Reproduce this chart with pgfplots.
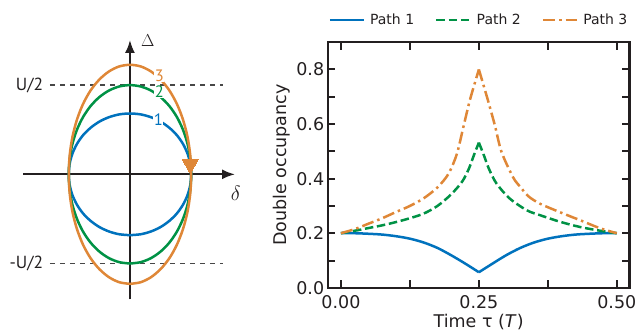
\documentclass[border=0pt]{standalone}
\usepackage{fontspec}
\setmainfont{DejaVu Sans}
\newfontfamily\ptsans{PT Sans}
\usepackage{pgfplots}
\usepackage{pgfplotstable}
\pgfplotsset{compat=1.18}
\usetikzlibrary{arrows.meta}
\definecolor{cblue}{RGB}{0,114,189}
\definecolor{cgreen}{RGB}{0,146,69}
\definecolor{corange}{RGB}{223,135,55}
\definecolor{axcol}{RGB}{35,31,32}

\pgfplotstableread{
x b g o
0.000 -0.682 -1.000 -1.228
0.174 -0.672 -0.985 -1.210
0.342 -0.641 -0.940 -1.154
0.500 -0.591 -0.866 -1.063
0.643 -0.522 -0.766 -0.941
0.766 -0.439 -0.643 -0.790
0.866 -0.341 -0.500 -0.614
0.940 -0.233 -0.342 -0.420
0.985 -0.119 -0.174 -0.214
1.000 0.000 0.000 0.000
0.985 0.119 0.174 0.214
0.940 0.233 0.342 0.420
0.866 0.341 0.500 0.614
0.766 0.439 0.643 0.790
0.643 0.522 0.766 0.941
0.500 0.591 0.866 1.063
0.342 0.641 0.940 1.154
0.174 0.672 0.985 1.210
0.000 0.682 1.000 1.228
-0.174 0.672 0.985 1.210
-0.342 0.641 0.940 1.154
-0.500 0.591 0.866 1.063
-0.643 0.522 0.766 0.941
-0.766 0.439 0.643 0.790
-0.866 0.341 0.500 0.614
-0.940 0.233 0.342 0.420
-0.985 0.119 0.174 0.214
-1.000 0.000 0.000 0.000
-0.985 -0.119 -0.174 -0.214
-0.940 -0.233 -0.342 -0.420
-0.866 -0.341 -0.500 -0.614
-0.766 -0.439 -0.643 -0.790
-0.643 -0.522 -0.766 -0.941
-0.500 -0.591 -0.866 -1.063
-0.342 -0.641 -0.940 -1.154
-0.174 -0.672 -0.985 -1.210
0.000 -0.682 -1.000 -1.228
}\ellipses

\begin{document}
\begin{tikzpicture}
\useasboundingbox (0,0) rectangle (637pt,332pt);
% ---------------- left schematic ----------------
\begin{axis}[at={(23.3pt,32.7pt)}, anchor=south west, scale only axis,
  width=211.7pt, height=259.3pt,
  xmin=-1.743, xmax=1.716, ymin=-1.401, ymax=1.506,
  axis lines=middle, ticks=none, clip=false,
  axis line style={line width=2pt, axcol},
  every inner x axis line/.append style={-{Latex[length=13pt,width=10pt]}},
  every inner y axis line/.append style={-{Latex[length=13pt,width=10pt]}},
]
\addplot[black!72, line width=1.3pt, dash pattern=on 5.5pt off 4.5pt] coordinates {(-1.307,1) (1.52,1)};
\addplot[black!72, line width=1.3pt, dash pattern=on 5.5pt off 4.5pt] coordinates {(-1.307,-1) (1.52,-1)};
\addplot[cblue, line width=2.5pt, smooth] table[x=x,y=b]{\ellipses};
\addplot[cgreen, line width=2.5pt, smooth] table[x=x,y=g]{\ellipses};
\addplot[corange, line width=2.5pt, smooth] table[x=x,y=o]{\ellipses};
\addplot[corange, only marks, mark=triangle*, mark size=9.3pt, mark options={rotate=180, fill=corange, draw=corange, line width=0pt}] coordinates {(0.985,0.115)};
\node[anchor=east, inner sep=0pt, text=axcol, font=\ptsans\fontsize{17.5}{20}\selectfont] at (axis cs:-1.417,1) {U/2};
\node[anchor=east, inner sep=0pt, text=axcol, font=\ptsans\fontsize{17.5}{20}\selectfont] at (axis cs:-1.417,-1) {-U/2};
\node[fill=white, inner sep=0.4pt, text=cblue, font=\ptsans\fontsize{16.5}{19}\selectfont] at (axis cs:0.463,0.609) {1};
\node[fill=white, inner sep=0.4pt, text=cgreen, font=\ptsans\fontsize{16.5}{19}\selectfont] at (axis cs:0.479,0.925) {2};
\node[fill=white, inner sep=0.4pt, text=corange, font=\ptsans\fontsize{16.5}{19}\selectfont] at (axis cs:0.479,1.100) {3};
\node[inner sep=0pt, text=axcol, font=\fontsize{19}{21}\selectfont] at (axis cs:0.29,1.494) {$\Delta$};
\node[inner sep=0pt, text=axcol, font=\fontsize{20}{22}\selectfont] at (axis cs:1.73,-0.21) {$\delta$};
\end{axis}
% ---------------- right plot ----------------
\begin{axis}[at={(327.7pt,44.2pt)}, anchor=south west, scale only axis,
  width=301.8pt, height=245.6pt,
  xmin=-0.024, xmax=0.523, ymin=0, ymax=0.9,
  xtick={0,0.25,0.5}, minor xtick={0.125,0.375},
  ytick={0,0.2,0.4,0.6,0.8}, minor ytick={0.1,0.3,0.5,0.7},
  tick align=inside, major tick length=7.5pt, minor tick length=7.5pt,
  tick style={axcol, line width=2pt},
  axis line style={axcol, line width=2.2pt},
  /pgf/number format/assume math mode=true,
  xticklabel style={/pgf/number format/fixed, /pgf/number format/fixed zerofill, /pgf/number format/precision=2},
  yticklabel style={/pgf/number format/fixed, /pgf/number format/fixed zerofill, /pgf/number format/precision=1},
  tick label style={font=\fontsize{17.5}{21}\selectfont, text=axcol},
  xticklabel shift=4pt,
  label style={font=\fontsize{17.5}{21}\selectfont, text=axcol},
  xlabel={Time τ (\textit{T})},
  ylabel={Double occupancy},
  xlabel style={at={(axis description cs:0.5,-0.163)}, anchor=base},
  ylabel style={at={(axis description cs:-0.138,0.5)}, anchor=base},
  legend columns=3,
  legend style={draw=none, fill=none, at={(axis description cs:0.5013,1.09)}, anchor=center,
    font=\fontsize{14}{16}\selectfont, text=axcol,
    /tikz/every even column/.append style={column sep=19pt},
    /tikz/every odd column/.append style={column sep=3pt}},
  legend image code/.code={\draw[#1] (0pt,0pt) -- (34pt,0pt);},
]
\addplot[cblue, line width=2.5pt, smooth] coordinates {
(0,0.200) (0.025,0.200) (0.05,0.198) (0.075,0.195) (0.1,0.189) (0.125,0.180)
(0.15,0.166) (0.175,0.146) (0.2,0.119) (0.225,0.089) (0.25,0.057)};
\addlegendentry{Path 1}
\addplot[cblue, line width=2.5pt, smooth, forget plot] coordinates {
(0.25,0.057) (0.275,0.089) (0.3,0.120) (0.325,0.146) (0.35,0.166) (0.375,0.180)
(0.4,0.189) (0.425,0.195) (0.45,0.198) (0.475,0.200) (0.5,0.200)};
\addplot[cgreen, line width=2.5pt, smooth, dash pattern=on 8.5pt off 3.7pt] coordinates {
(0,0.200) (0.025,0.209) (0.05,0.219) (0.075,0.229) (0.1,0.241) (0.125,0.255)
(0.15,0.272) (0.175,0.300) (0.2,0.343) (0.22,0.390) (0.232,0.437) (0.241,0.486) (0.25,0.532)};
\addlegendentry{Path 2}
\addplot[cgreen, line width=2.5pt, smooth, dash pattern=on 8.5pt off 3.7pt, forget plot] coordinates {
(0.25,0.532) (0.259,0.486) (0.268,0.437) (0.282,0.382) (0.306,0.327) (0.337,0.284)
(0.361,0.266) (0.397,0.242) (0.433,0.223) (0.47,0.209) (0.5,0.200)};
\addplot[corange, line width=2.5pt, smooth, dash pattern=on 12pt off 4pt on 2.5pt off 4pt] coordinates {
(0,0.200) (0.025,0.215) (0.05,0.235) (0.075,0.255) (0.1,0.278) (0.125,0.300)
(0.15,0.328) (0.175,0.368) (0.195,0.418) (0.21,0.490) (0.222,0.590) (0.234,0.690) (0.25,0.800)};
\addlegendentry{Path 3}
\addplot[corange, line width=2.5pt, smooth, dash pattern=on 12pt off 4pt on 2.5pt off 4pt, forget plot] coordinates {
(0.25,0.800) (0.266,0.690) (0.279,0.595) (0.291,0.498) (0.312,0.405) (0.325,0.370)
(0.34,0.335) (0.361,0.308) (0.397,0.277) (0.433,0.248) (0.47,0.218) (0.5,0.200)};
\end{axis}
\end{tikzpicture}
\end{document}
